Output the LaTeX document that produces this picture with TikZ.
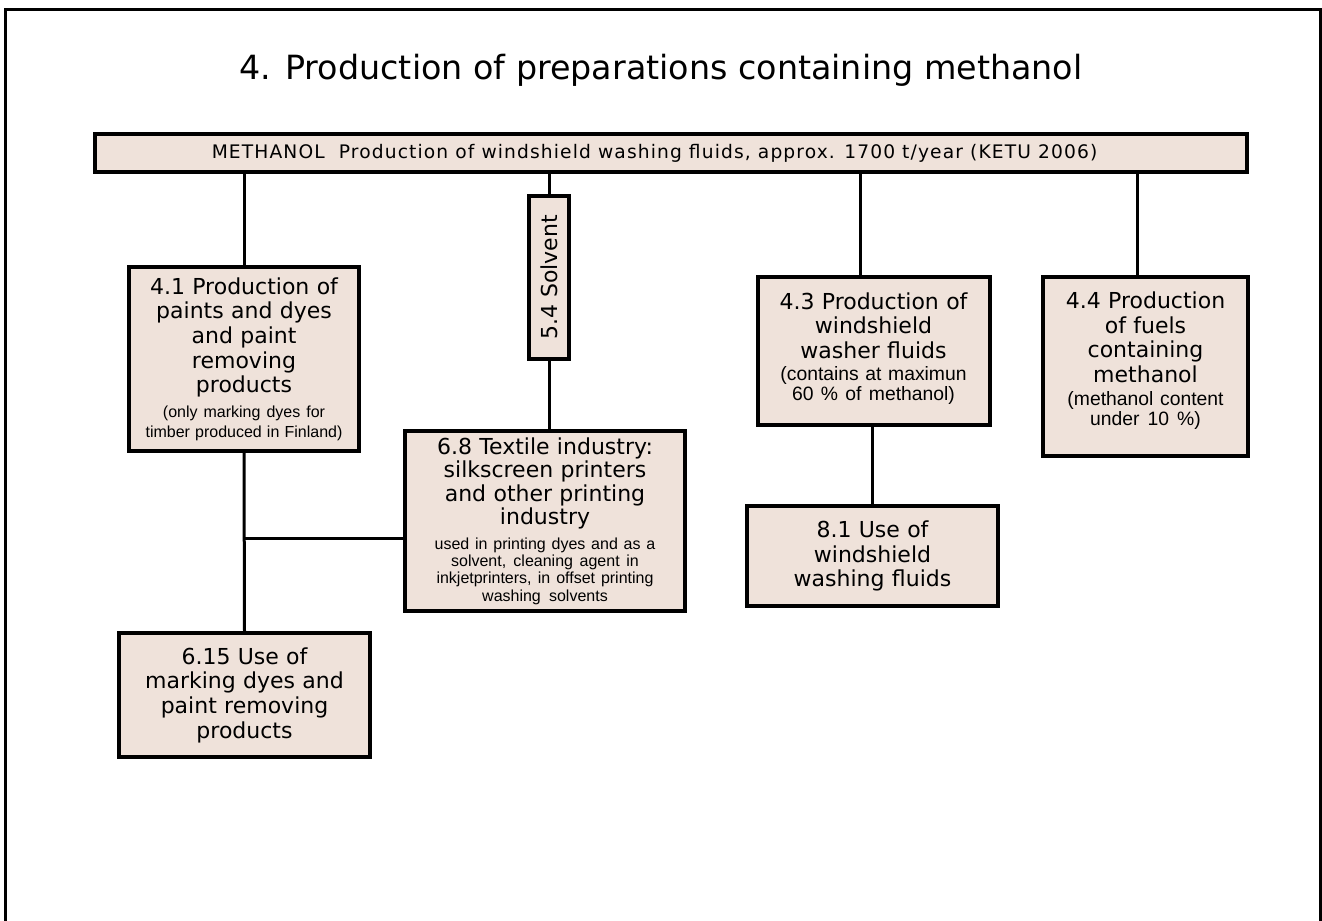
\documentclass[tikz,border=0pt]{standalone}
\usepackage{fontspec}
\setmainfont{DejaVu Sans}
\newfontfamily\notefont{Liberation Sans}
\newfontfamily\barfont[LetterSpace=6]{DejaVu Sans}
\usetikzlibrary{positioning}
\definecolor{BoxFill}{HTML}{EFE2DA}
\newcommand{\boxfont}{\fontsize{16.5}{18.5}\selectfont}
\newcommand{\notesmall}[1]{\notefont\fontsize{12}{#1}\selectfont\spaceskip=0pt\xspaceskip=0pt}
\newcommand{\notelarge}{\notefont\fontsize{14.5}{15}\selectfont\spaceskip=0pt\xspaceskip=0pt}
\newcommand{\padbelow}[1]{\par\nointerlineskip\hbox{\rule{0pt}{#1}}}
\begin{document}
\begin{tikzpicture}[x=0.75pt, y=-0.75pt,
  stage/.style={draw=black, line width=3pt, fill=BoxFill, align=center, inner sep=2pt, font=\boxfont},
  link/.style={draw=black, line width=2.25pt}]
\useasboundingbox (0,0) rectangle (1322,921);
% frame, open at the bottom
\draw[line width=2.25pt] (5,921) -- (5,9) -- (1320,9) -- (1320,921);
\node (title) at (661,70) {\fontsize{25}{29}\selectfont 4. Production of preparations containing methanol};
% main bar
\node[stage, minimum width=864pt, minimum height=28pt, inner sep=0pt] (bar) at (670.5,153)
  {\barfont\fontsize{14}{16}\selectfont METHANOL\ \ Production of windshield washing fluids, approx. 1700 t/year (KETU 2006)\hspace*{24pt}};
% stages
\node[stage, text width=168pt, minimum width=172pt, minimum height=138pt] (p41) at (244,359)
  {4.1 Production of\\paints and dyes\\and paint\\removing\\products\par
   \vspace{3.5pt}\notesmall{15} (only marking dyes for\\timber produced in Finland)\par};
\node[stage, rotate=90, minimum width=122pt, minimum height=30pt, inner sep=0pt] (solv) at (549,277.5) {5.4 Solvent};
\node[stage, text width=206pt, minimum width=208pt, minimum height=135pt] (p68) at (545,521)
  {\fontsize{16.5}{17.5}\selectfont 6.8 Textile industry:\\silkscreen printers\\and other printing\\industry\par
   \vspace{5.5pt}\notesmall{13} used in printing dyes and as a\\solvent, cleaning agent in\\inkjetprinters, in offset printing\\washing solvents\par};
\node[stage, text width=170pt, minimum width=173pt, minimum height=111pt] (p43) at (873.5,351)
  {4.3 Production of\\windshield\\washer fluids\par
   \vspace{1.5pt}\notelarge (contains at maximun\\60 \% of methanol)\padbelow{4pt}};
\node[stage, text width=150pt, minimum width=152pt, minimum height=134pt] (p44) at (1145.5,366.5)
  {4.4 Production\\of fuels\\containing\\methanol\par
   \vspace{2pt}\notelarge (methanol content\\under 10 \%)\padbelow{9pt}};
\node[stage, text width=184pt, minimum width=186pt, minimum height=75pt] (p81) at (872.5,556)
  {8.1 Use of\\windshield\\washing fluids};
\node[stage, text width=184pt, minimum width=186pt, minimum height=93pt] (p615) at (244.5,695)
  {6.15 Use of\\marking dyes and\\paint removing\\products};
% connectors
\coordinate (p43top) at ([xshift=-10pt]p43.north);
\coordinate (p44top) at ([xshift=-6pt]p44.north);
\coordinate (fork) at (244,538);
\draw[link] (bar.south -| p41.north) -- (p41.north);
\draw[link] (bar.south -| solv.east) -- (solv.east);
\draw[link] (solv.west) -- (solv.west |- p68.north);
\draw[link] (bar.south -| p43top) -- (p43top);
\draw[link] (bar.south -| p44top) -- (p44top);
\draw[link] (p43.south -| p81.north) -- (p81.north);
\draw[link] (p41.south) -- (p615.north);
\draw[link] (fork) -- (fork -| p68.west);
\end{tikzpicture}
\end{document}
